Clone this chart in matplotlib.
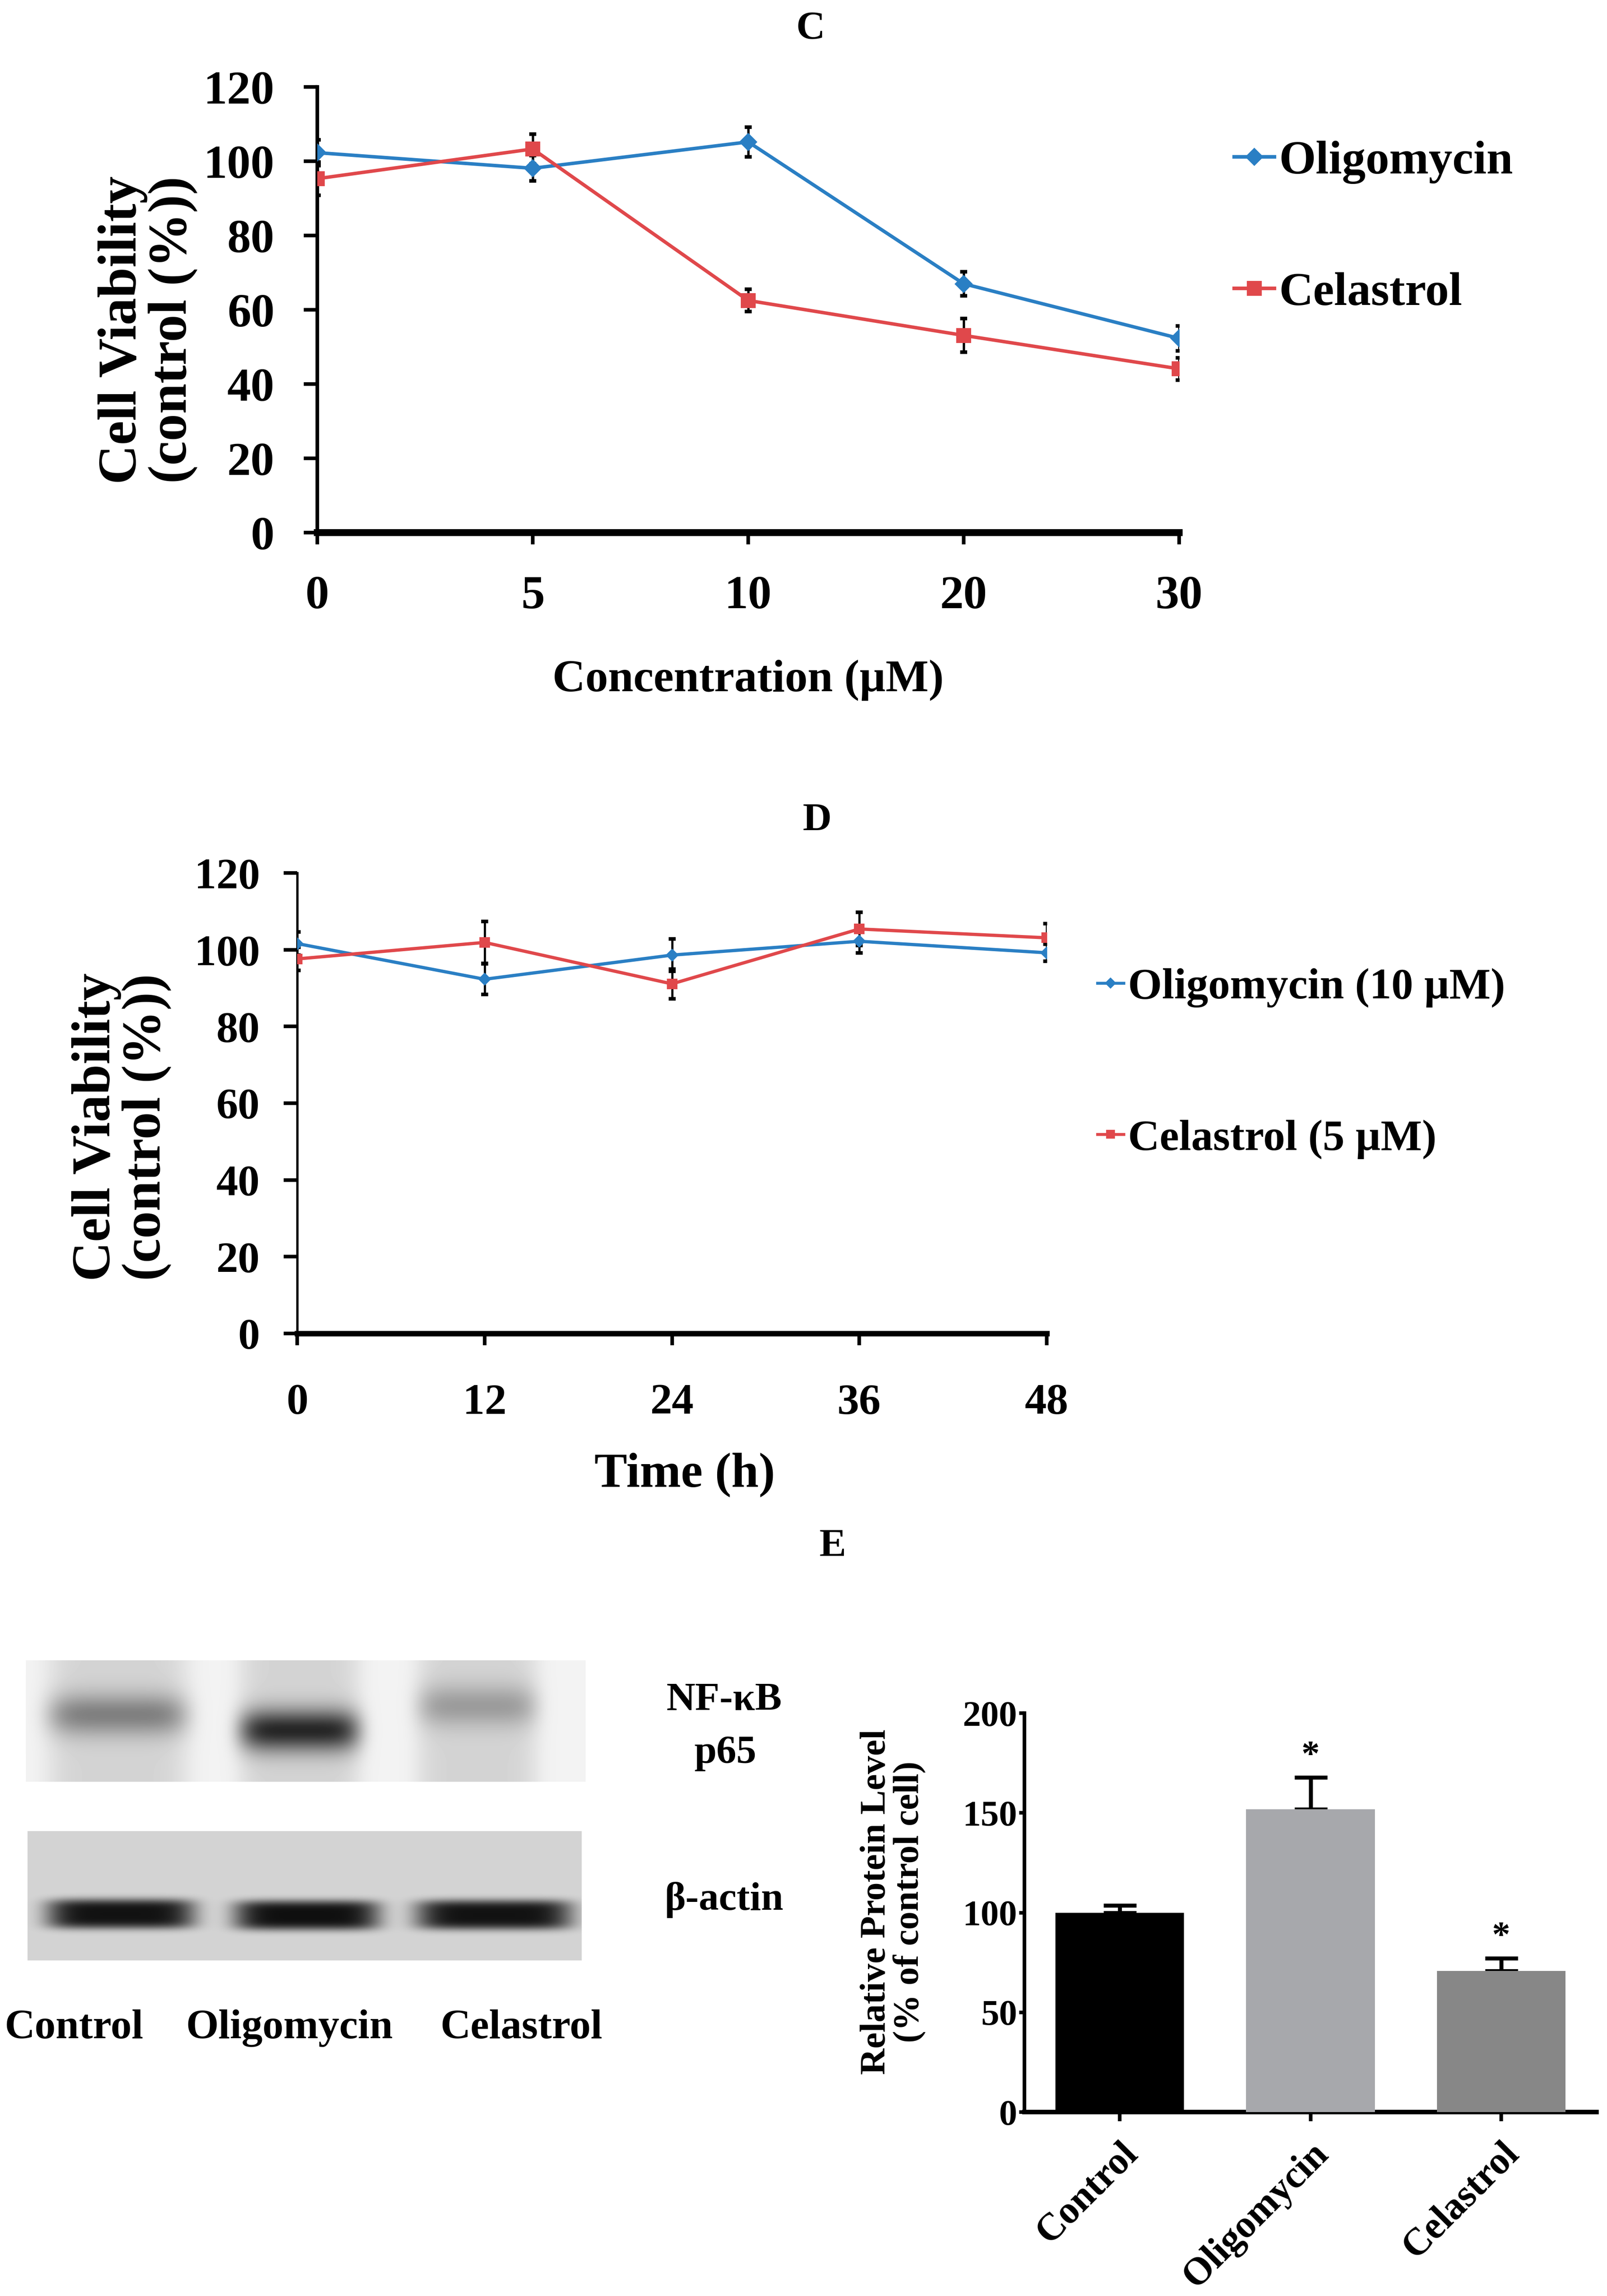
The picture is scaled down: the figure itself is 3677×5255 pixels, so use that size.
import numpy as np
import matplotlib.pyplot as plt
from matplotlib.lines import Line2D

plt.rcParams['font.family'] = ['Liberation Serif', 'DejaVu Serif']
plt.rcParams['font.weight'] = 'bold'
plt.rcParams['axes.labelweight'] = 'bold'

# ---- Panel C: viability vs concentration
conc_labels = ['0', '5', '10', '20', '30']
oligo_conc = [102.3, 98.1, 105.2, 67.0, 52.3]
oligo_conc_err = [3.5, 3.4, 4.0, 3.2, 3.3]
cela_conc = [95.3, 103.3, 62.5, 53.1, 44.1]
cela_conc_err = [4.5, 4.0, 3.0, 4.5, 3.0]

# ---- Panel D: viability vs time
time_labels = ['0', '12', '24', '36', '48']
oligo_time = [101.6, 92.3, 98.6, 102.2, 99.2]
oligo_time_err = [3.0, 4.0, 4.2, 3.0, 2.2]
cela_time = [97.6, 101.9, 91.1, 105.4, 103.1]
cela_time_err = [3.0, 5.5, 3.9, 4.3, 3.7]

# ---- Panel E: NF-kB p65 relative protein level
groups = ['Control', 'Oligomycin', 'Celastrol']
protein_level = [100.0, 151.7, 70.8]
protein_err = [3.6, 16.2, 6.4]
significant = [False, True, True]

# band darkness per lane in the blots (0 = none, 1 = black)
nfkb_band = [0.33, 0.68, 0.22]
actin_band = [0.76, 0.77, 0.76]

blue = '#2a7fc4'
red = '#e0484b'
bar_colors = ['#000000', '#a7a8ac', '#878787']

W, H = 3677, 5255
fig = plt.figure(figsize=(W / 300, H / 300), dpi=300)


def fig_box(x0, y0, x1, y1):
    # pixel box (top-left origin) -> figure fraction rect
    return [x0 / W, 1 - y1 / H, (x1 - x0) / W, (y1 - y0) / H]


def style_line_axes(ax, bottom_w, left_w, lab_size, ypad, xpad):
    for s in ['top', 'right']:
        ax.spines[s].set_visible(False)
    ax.spines['bottom'].set_linewidth(bottom_w)
    ax.spines['left'].set_linewidth(left_w)
    ax.set_ylim(0, 120)
    ax.set_yticks(range(0, 121, 20))
    ax.set_xlim(0, 4)
    ax.tick_params(axis='y', direction='out', length=7.5, width=2, labelsize=lab_size, pad=ypad)
    ax.tick_params(axis='x', direction='out', length=6.5, width=2, labelsize=lab_size, pad=xpad)


# ================= C =================
axC = fig.add_axes(fig_box(726, 199, 2698, 1219))
xC = np.arange(len(conc_labels))
axC.errorbar(xC, oligo_conc, yerr=oligo_conc_err, fmt='none', ecolor='black',
             elinewidth=1.3, capsize=2, capthick=2, zorder=2)
axC.errorbar(xC, cela_conc, yerr=cela_conc_err, fmt='none', ecolor='black',
             elinewidth=1.3, capsize=2, capthick=2, zorder=2)
axC.plot(xC, oligo_conc, color=blue, lw=1.9, marker='D', ms=6, zorder=3)
axC.plot(xC, cela_conc, color=red, lw=1.9, marker='s', ms=7, zorder=3)
style_line_axes(axC, 3.8, 2.0, 26, 16, 17)
axC.set_xticks(xC)
axC.set_xticklabels(conc_labels)
axC.set_xlabel('Concentration (µM)', fontsize=25)
axC.xaxis.set_label_coords(0.5, -0.285)
axC.set_ylabel('Cell Viability\n(control (%))', fontsize=30, linespacing=1.0)
axC.yaxis.set_label_coords(-0.139, 0.455)
legC = [Line2D([], [], color=blue, lw=2, marker='D', ms=6),
        Line2D([], [], color=red, lw=2, marker='s', ms=7)]
axC.legend(legC, ['Oligomycin', 'Celastrol'], loc='center left',
           bbox_to_anchor=(2824 / W, 1 - 521 / H), bbox_transform=fig.transFigure,
           frameon=False, fontsize=26, handlelength=0.85, handletextpad=0.1,
           labelspacing=1.85, borderpad=0, borderaxespad=0)
fig.text(1855 / W, 1 - 67 / H, 'C', ha='center', va='center', fontsize=22)

# ================= D =================
axD = fig.add_axes(fig_box(680, 1998, 2395, 3052))
xD = np.arange(len(time_labels))
axD.errorbar(xD, oligo_time, yerr=oligo_time_err, fmt='none', ecolor='black',
             elinewidth=1.2, capsize=2, capthick=2, zorder=2)
axD.errorbar(xD, cela_time, yerr=cela_time_err, fmt='none', ecolor='black',
             elinewidth=1.2, capsize=2, capthick=2, zorder=2)
axD.plot(xD, oligo_time, color=blue, lw=1.8, marker='D', ms=4, zorder=3)
axD.plot(xD, cela_time, color=red, lw=1.8, marker='s', ms=5, zorder=3)
style_line_axes(axD, 3.0, 1.3, 24, 13, 21)
axD.set_xticks(xD)
axD.set_xticklabels(time_labels)
axD.set_xlabel('Time (h)', fontsize=27)
axD.xaxis.set_label_coords(0.517, -0.258)
axD.set_ylabel('Cell Viability\n(control (%))', fontsize=30, linespacing=1.0)
axD.yaxis.set_label_coords(-0.168, 0.448)
legD = [Line2D([], [], color=blue, lw=1.6, marker='D', ms=3.5),
        Line2D([], [], color=red, lw=1.6, marker='s', ms=4)]
axD.legend(legD, ['Oligomycin (10 µM)', 'Celastrol (5 µM)'], loc='center left',
           bbox_to_anchor=(2511 / W, 1 - 2434 / H), bbox_transform=fig.transFigure,
           frameon=False, fontsize=24, handlelength=0.6, handletextpad=0.1,
           labelspacing=2.55, borderpad=0, borderaxespad=0)
fig.text(1869 / W, 1 - 1879 / H, 'D', ha='center', va='center', fontsize=22)

# ================= E : blots =================
def blot(width, height, bg, lanes, band_y, band_half, dark, smear, power):
    xx, yy = np.meshgrid(np.arange(width), np.arange(height))
    img = np.full((height, width), bg, dtype=float)
    for (x0, x1), y0, d in zip(lanes, band_y, dark):
        xc, hw = (x0 + x1) / 2, (x1 - x0) / 2
        px = np.exp(-np.abs((xx - xc) / hw) ** 6)
        py = np.exp(-np.abs((yy - y0) / band_half) ** power)
        img -= d * px * py + smear * px
    return np.clip(img, 0, 1)


nfkb_img = blot(1281, 278, 0.95, [(50, 370), (488, 764), (895, 1170)],
                [124, 160, 104], 48, nfkb_band, 0.12, 2)
actin_img = blot(1268, 296, 0.83, [(44, 382), (473, 805), (889, 1245)],
                 [189, 192, 191], 34, actin_band, 0.0, 4)

axB1 = fig.add_axes(fig_box(59, 3800, 1340, 4078))
axB1.imshow(nfkb_img, cmap='gray', vmin=0, vmax=1, aspect='auto', interpolation='bilinear')
axB1.axis('off')
axB2 = fig.add_axes(fig_box(63, 4191, 1331, 4487))
axB2.imshow(actin_img, cmap='gray', vmin=0, vmax=1, aspect='auto', interpolation='bilinear')
axB2.axis('off')

fig.text(1657 / W, 1 - 3892 / H, 'NF-κB', ha='center', va='center', fontsize=22)
fig.text(1660 / W, 1 - 4013 / H, 'p65', ha='center', va='center', fontsize=22)
fig.text(1657 / W, 1 - 4349 / H, 'β-actin', ha='center', va='center', fontsize=22)
for name, xc in zip(groups, [169, 662, 1193]):
    fig.text(xc / W, 1 - 4642 / H, name, ha='center', va='center', fontsize=23)
fig.text(1905 / W, 1 - 3540 / H, 'E', ha='center', va='center', fontsize=22)

# ================= E : bar chart =================
axE = fig.add_axes(fig_box(2344, 3921, 3653, 4834))
xE = np.arange(len(groups))
axE.bar(xE, protein_level, width=0.675, color=bar_colors, zorder=3,
        yerr=[[0] * len(groups), protein_err],
        error_kw=dict(ecolor='black', elinewidth=2.2, capsize=9, capthick=2.2, zorder=2))
for x, v, e, s in zip(xE, protein_level, protein_err, significant):
    if s:
        axE.text(x, v + e + 2, '*', ha='center', va='bottom', fontsize=20)
for s in ['top', 'right']:
    axE.spines[s].set_visible(False)
axE.spines['left'].set_linewidth(2.0)
axE.spines['bottom'].set_linewidth(2.5)
axE.set_ylim(0, 200)
axE.set_yticks(range(0, 201, 50))
axE.set_xlim(-0.5, 2.5)
axE.set_xticks(xE)
axE.set_xticklabels(groups, rotation=45, ha='right', va='top', rotation_mode='anchor')
axE.tick_params(axis='y', length=3, width=2, labelsize=20, pad=1)
axE.tick_params(axis='x', length=5, width=2, labelsize=21, pad=8)
axE.set_ylabel('Relative Protein Level\n(% of control cell)', fontsize=20, linespacing=1.0)
axE.yaxis.set_label_coords(-0.172, 0.527)

fig.savefig('out.png', dpi=300)
